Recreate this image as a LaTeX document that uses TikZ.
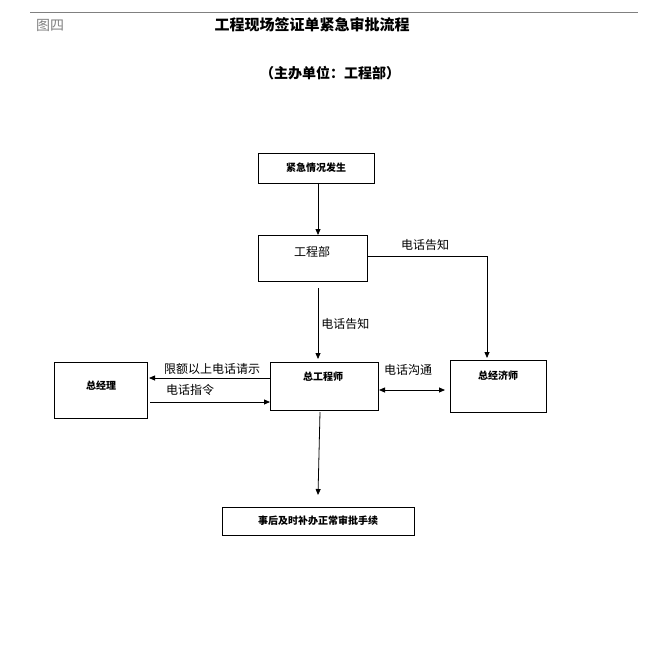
\documentclass[tikz,border=0pt]{standalone}
\usepackage{fontspec}
\newfontfamily\cjk{Noto Sans CJK SC}
\usetikzlibrary{arrows.meta}
\begin{document}
\begin{tikzpicture}[x=1pt,y=-1pt,font=\cjk\fontsize{12}{14}\selectfont,
  box/.style={draw,line width=0.8pt},
  arr/.style={-{Triangle[length=6pt,width=5pt]},line width=0.8pt},
  lab/.style={inner sep=1pt}]
\useasboundingbox (0,0) rectangle (668,660);
\draw[gray,line width=0.6pt] (30,12) -- (638,12);
\node[lab,gray,font=\cjk\fontsize{14}{16}\selectfont] (fig) at (50,25) {图四};
\node[lab,font=\cjk\bfseries\fontsize{15}{18}\selectfont] (title) at (312,25) {工程现场签证单紧急审批流程};
\node[lab,font=\cjk\bfseries\fontsize{14}{17}\selectfont] (sub) at (330,73) {（主办单位：工程部）};

\draw[box] (258,153) rectangle (374,183);
\node[lab,font=\cjk\bfseries] (a) at (316,168) {紧急情况发生};
\coordinate (aB) at (318,183);
\draw[box] (258,235) rectangle (367,281);
\node[lab] (b) at (312,252) {工程部};
\coordinate (bT) at (318,235); \coordinate (bB) at (318,288); \coordinate (bR) at (367,256);
\draw[box] (270,362) rectangle (378,410);
\node[lab,font=\cjk\bfseries] (c) at (323,377) {总工程师};
\draw[box] (54,362) rectangle (147,418);
\node[lab,font=\cjk\bfseries] (d) at (101,386) {总经理};
\draw[box] (450,360) rectangle (546,412);
\node[lab,font=\cjk\bfseries] (e) at (498,376) {总经济师};
\draw[box] (222,507) rectangle (414,535);
\node[lab,font=\cjk\bfseries] (f) at (318,521) {事后及时补办正常审批手续};

\coordinate (cT) at (318,359); \coordinate (cB) at (320,412);
\coordinate (fT) at (318,495);
\coordinate (eT) at (487,358); \coordinate (corner) at (487,256);

\draw[arr] (aB) -- (bT);
\draw[arr] (bB) -- node[lab,right=2pt] {电话告知} (cT);
\draw[arr] (bR) -- (corner) -- (eT);
\node[lab] (l1) at (425,245) {电话告知};
\draw[arr] (270,378) -- (149,378);
\node[lab] (l2) at (212,369) {限额以上电话请示};
\draw[arr] (150,402) -- (270,402);
\node[lab] (l3) at (190,390) {电话指令};
\draw[{Triangle[length=6pt,width=5pt]}-{Triangle[length=6pt,width=5pt]},line width=0.8pt] (379,390) -- (445,390);
\node[lab] (l4) at (408,370) {电话沟通};
\draw[arr] (cB) -- (fT);
\end{tikzpicture}
\end{document}
